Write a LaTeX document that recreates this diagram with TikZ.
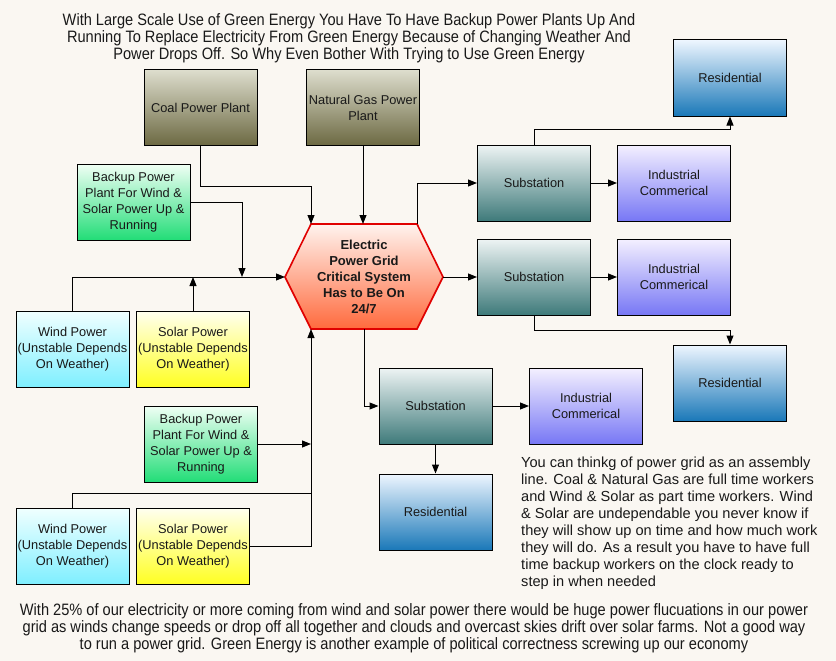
\documentclass[tikz,border=0pt]{standalone}
\usepackage{fontspec}
\setmainfont{Liberation Sans}
\newfontfamily\narrowfont[FakeStretch=0.885]{Liberation Sans}
\usetikzlibrary{arrows.meta}
\definecolor{bgcol}{RGB}{250,247,242}
\definecolor{coalT}{RGB}{222,222,206}
\definecolor{coalB}{RGB}{108,105,66}
\definecolor{bkT}{RGB}{240,255,245}
\definecolor{bkB}{RGB}{34,221,119}
\definecolor{windT}{RGB}{240,255,255}
\definecolor{windB}{RGB}{127,239,255}
\definecolor{solT}{RGB}{255,255,240}
\definecolor{solB}{RGB}{255,255,34}
\definecolor{hexT}{RGB}{255,243,238}
\definecolor{hexB}{RGB}{255,106,61}
\definecolor{hexline}{RGB}{224,0,0}
\definecolor{subT}{RGB}{238,244,244}
\definecolor{subB}{RGB}{62,122,122}
\definecolor{indT}{RGB}{244,240,255}
\definecolor{indB}{RGB}{119,119,245}
\definecolor{resT}{RGB}{238,246,255}
\definecolor{resB}{RGB}{26,120,184}
\definecolor{txt}{RGB}{25,25,25}
\tikzset{
  box/.style={draw=black, line width=1pt, minimum width=113pt, minimum height=76pt,
    inner sep=0pt, align=center, text=txt,
    font=\fontsize{12.8}{16}\selectfont},
  coalbox/.style={box, top color=coalT, bottom color=coalB},
  bkbox/.style={box, top color=bkT, bottom color=bkB},
  windbox/.style={box, top color=windT, bottom color=windB},
  solbox/.style={box, top color=solT, bottom color=solB},
  subbox/.style={box, top color=subT, bottom color=subB},
  indbox/.style={box, top color=indT, bottom color=indB},
  resbox/.style={box, top color=resT, bottom color=resB},
  arr/.style={-{Triangle[length=9pt,width=7pt]}, line width=1pt, draw=black},
  ln/.style={line width=1pt, draw=black},
}
\begin{document}
\begin{tikzpicture}[x=1pt,y=-1pt]
\fill[bgcol] (0,0) rectangle (836,661);
\useasboundingbox (0,0) rectangle (836,661);

% hexagon
\path[draw=hexline, line width=1.6pt, top color=hexT, bottom color=hexB]
  (285,277) -- (311,224) -- (417,224) -- (443,277) -- (417,329) -- (311,329) -- cycle;
\node[align=center, text=txt, font=\bfseries\fontsize{13}{16}\selectfont] (hex) at (364,277)
  {Electric\\Power Grid\\Critical System\\Has to Be On\\24/7};
\coordinate (hexTL) at (311,224);
\coordinate (hexTR) at (417,224);
\coordinate (hexL) at (285,277);
\coordinate (hexR) at (443,277);
\coordinate (hexBL) at (311,329);
\coordinate (hexBot) at (364,329);

% boxes
\node[coalbox] (coal) at (200.5,107.5) {Coal Power Plant};
\node[coalbox] (gas) at (363,107.5) {Natural Gas Power\\Plant};
\node[bkbox] (bk1) at (133.5,202) {Backup Power\\Plant For Wind \&\\Solar Power Up \&\\Running};
\node[windbox] (wind1) at (72.5,349) {Wind Power\\(Unstable Depends\\On Weather)};
\node[solbox] (sol1) at (193,349) {Solar Power\\(Unstable Depends\\On Weather)};
\node[bkbox] (bk2) at (201,444) {Backup Power\\Plant For Wind \&\\Solar Power Up \&\\Running};
\node[windbox] (wind2) at (72.5,546) {Wind Power\\(Unstable Depends\\On Weather)};
\node[solbox] (sol2) at (193,546) {Solar Power\\(Unstable Depends\\On Weather)};
\node[subbox] (sub1) at (534,183) {Substation};
\node[indbox] (ind1) at (674,183) {Industrial\\Commerical};
\node[subbox] (sub2) at (534,277) {Substation};
\node[indbox] (ind2) at (674,277) {Industrial\\Commerical};
\node[resbox] (res1) at (730,78) {Residential};
\node[resbox] (res2) at (730,383) {Residential};
\node[subbox] (sub3) at (435.5,406) {Substation};
\node[indbox] (ind3) at (586,406) {Industrial\\Commerical};
\node[resbox] (res3) at (435.5,512) {Residential};

% junctions
\coordinate (j1) at (242,277);
\coordinate (j2) at (311,493);
\coordinate (j3) at (311,444);

% connectors
\draw[arr] (coal.south) -- ++(0,40) -| (hexTL);
\draw[arr] (gas.south) -- (gas.south |- hexTL);
\draw[arr] (hexTR) |- (sub1.west);
\draw[arr] (hexR) -- (sub2.west);
\draw[arr] (sub1.east) -- (ind1.west);
\draw[arr] (sub2.east) -- (ind2.west);
\draw[arr] (sub1.north) -- ++(0,-15) -| (res1.south);
\draw[arr] (sub2.south) -- ++(0,15) -| (res2.north);
\draw[arr] (hexBot) |- (sub3.west);
\draw[arr] (sub3.east) -- (ind3.west);
\draw[arr] (sub3.south) -- (res3.north);
\draw[arr] (bk1.east) -| (j1);
\draw[arr] (wind1.north) |- (hexL);
\draw[arr] (sol1.north) -- (sol1.north |- hexL);
\draw[arr] (sol2.east) -| (hexBL);
\draw[ln] (wind2.north) |- (j2);
\draw[arr] (bk2.east) -- (j3);

% texts
\node[align=center, text=txt, font=\narrowfont\fontsize{16.5}{17}\selectfont] (title) at (349,38)
  {With Large Scale Use of Green Energy You Have To Have Backup Power Plants Up And\\
   Running To Replace Electricity From Green Energy Because of Changing Weather And\\
   Power Drops Off. So Why Even Bother With Trying to Use Green Energy};
\node[align=left, anchor=north west, inner sep=0pt, text=txt, font=\fontsize{14.6}{17}\selectfont] (note) at (521,457)
  {You can thinkg of power grid as an assembly\\
   line. Coal \& Natural Gas are full time workers\\
   and Wind \& Solar as part time workers. Wind\\
   \& Solar are undependable you never know if\\
   they will show up on time and how much work\\
   they will do. As a result you have to have full\\
   time backup workers on the clock ready to\\
   step in when needed};
\node[align=center, text=txt, font=\narrowfont\fontsize{16.5}{17}\selectfont] (bottom) at (414,628)
  {With 25\% of our electricity or more coming from wind and solar power there would be huge power flucuations in our power\\
   grid as winds change speeds or drop off all together and clouds and overcast skies drift over solar farms. Not a good way\\
   to run a power grid. Green Energy is another example of political correctness screwing up our economy};
\end{tikzpicture}
\end{document}
